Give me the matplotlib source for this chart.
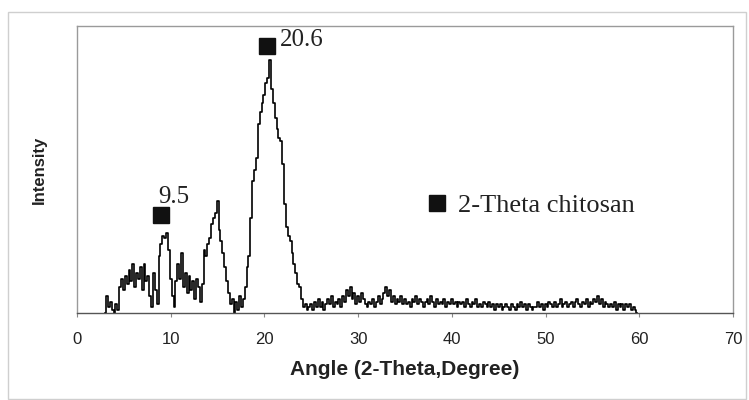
"""XRD pattern of chitosan (intensity vs 2-theta)."""

import numpy as np
import matplotlib.pyplot as plt
from matplotlib.patches import Rectangle

# intensity, 5 samples per degree from 3.0 to 59.8
intensity_by_degree = [
    [0, 6, 2, 4, 1],  # 3
    [0, 3, 1, 9, 12],
    [8, 13, 10, 15, 11],
    [17, 9, 14, 12, 16],
    [8, 17, 11, 13, 6],
    [2, 14, 8, 3, 20],  # 8
    [24, 27, 26, 28, 22],
    [12, 6, 2, 11, 17],
    [12, 21, 9, 14, 7],
    [13, 8, 11, 5, 12],
    [9, 4, 10, 22, 20],  # 13
    [24, 26, 31, 33, 35],
    [39, 29, 25, 21, 16],
    [11, 7, 3, 5, 0],
    [4, 1, 6, 2, 5],
    [9, 16, 20, 33, 46],  # 18
    [50, 54, 66, 70, 73],
    [76, 80, 82, 88, 78],
    [73, 68, 64, 61, 60],
    [52, 38, 30, 27, 25],
    [21, 17, 14, 10, 9],  # 23
    [5, 2, 3, 1, 2],
    [3, 1, 4, 2, 5],
    [2, 4, 1, 3, 5],
    [3, 6, 2, 4, 3],
    [5, 2, 6, 4, 8],  # 28
    [6, 9, 5, 7, 3],
    [6, 4, 7, 5, 3],
    [2, 4, 3, 5, 2],
    [4, 6, 3, 5, 7],
    [9, 6, 8, 4, 6],  # 33
    [3, 5, 4, 6, 3],
    [5, 3, 4, 2, 5],
    [4, 6, 3, 5, 4],
    [2, 4, 5, 3, 6],
    [4, 2, 5, 3, 4],  # 38
    [3, 5, 2, 4, 3],
    [5, 3, 4, 2, 4],
    [3, 4, 2, 5, 3],
    [2, 4, 3, 5, 2],
    [3, 2, 4, 3, 2],  # 43
    [4, 2, 3, 1, 3],
    [2, 3, 1, 2, 3],
    [2, 1, 3, 2, 1],
    [3, 2, 4, 2, 3],
    [1, 3, 2, 1, 2],  # 48
    [2, 4, 2, 3, 1],
    [3, 2, 4, 3, 2],
    [4, 2, 3, 5, 2],
    [3, 4, 2, 3, 4],
    [2, 4, 5, 3, 2],  # 53
    [4, 3, 5, 2, 4],
    [3, 5, 4, 6, 3],
    [5, 2, 4, 3, 2],
    [3, 2, 4, 1, 3],
    [2, 3, 1, 3, 2],  # 58
    [3, 1, 2, 1, 0],
]
angle_start = 3.0
angle_step = 0.2

# labelled peaks
peak_angles = [9.0, 20.3]
peak_heights = [34, 93]
peak_labels = ["9.5", "20.6"]
label_angles = [8.65, 21.7]
label_heights = [40.4, 95.1]

x_ticks = [0, 10, 20, 30, 40, 50, 60, 70]

intensity = np.array(intensity_by_degree, dtype=float).ravel()
angle = np.round(angle_start + angle_step * np.arange(intensity.size), 1)

fig = plt.figure(figsize=(7.49, 4.0), dpi=100)
fig.patches.append(Rectangle((8 / 749, 1 / 400), 738 / 749, 387 / 400,
                             transform=fig.transFigure, fill=False,
                             edgecolor="#cfcfcf", linewidth=1.0))
ax = fig.add_axes([77 / 749, 87 / 400, 656 / 749, 287 / 400])

ax.plot(angle, intensity, color="black", linewidth=1.2, drawstyle="steps-mid")
ax.plot(peak_angles, peak_heights, linestyle="none", marker="s", markersize=12,
        color="#111111", label="2-Theta chitosan")
for xa, ya, txt in zip(label_angles, label_heights, peak_labels):
    ax.text(xa, ya, txt, family="Liberation Serif", fontsize=18,
            ha="left", va="center", color="#222222")

ax.set_xlim(0, 70)
ax.set_ylim(0, 100)
ax.set_xticks(x_ticks)
ax.set_yticks([])
ax.tick_params(axis="x", length=3, width=0.8, color="#888888", pad=11,
               labelsize=12, labelcolor="#222222")
for lbl in ax.get_xticklabels():
    lbl.set_family("Liberation Sans")

for side in ["left", "top", "right"]:
    ax.spines[side].set_color("#9a9a9a")
    ax.spines[side].set_linewidth(1.0)
ax.spines["bottom"].set_color("#555555")
ax.spines["bottom"].set_linewidth(1.0)

ax.set_xlabel("Angle (2-Theta,Degree)", family="Liberation Sans", fontsize=15,
              fontweight="bold", color="#222222", labelpad=9)
ax.set_ylabel("Intensity", family="Liberation Sans", fontsize=12,
              fontweight="bold", color="#222222", labelpad=22)

ax.legend(loc="center left", bbox_to_anchor=(0.533, 0.375), frameon=False,
          numpoints=1, handlelength=0.8, handletextpad=0.4, borderpad=0,
          borderaxespad=0, prop={"family": "Liberation Serif", "size": 19},
          labelcolor="#222222")

fig.savefig("out.png", dpi=100)
